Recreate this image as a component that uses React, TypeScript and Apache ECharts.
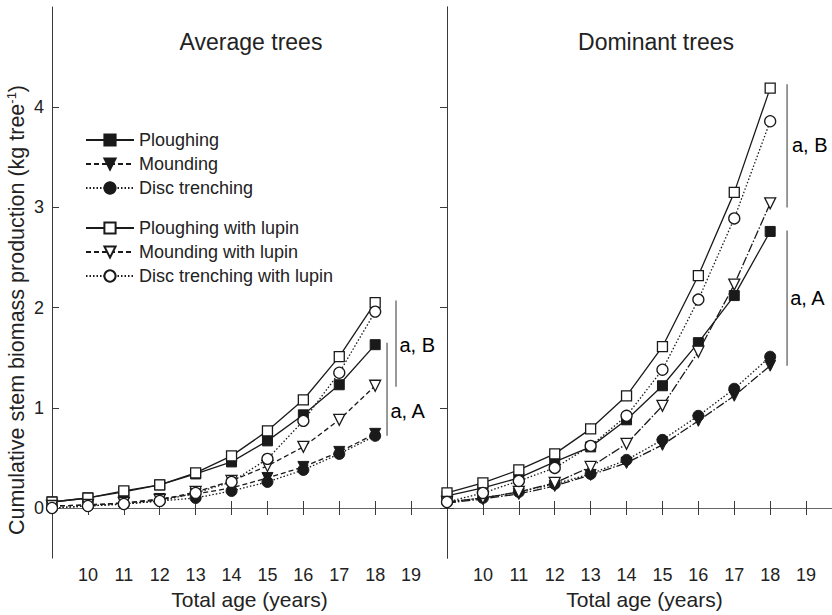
import React, { useEffect, useRef } from "react";
import * as echarts from "echarts";

const ages = [9, 10, 11, 12, 13, 14, 15, 16, 17, 18];
const xTickValues = [10, 11, 12, 13, 14, 15, 16, 17, 18, 19];
const yTickValues = [0, 1, 2, 3, 4];

// Average trees
const avgPloughing = [0.06, 0.1, 0.16, 0.23, 0.34, 0.46, 0.67, 0.93, 1.23, 1.63];
const avgMounding = [0.02, 0.03, 0.05, 0.09, 0.14, 0.2, 0.3, 0.41, 0.56, 0.74];
const avgDisc = [0.0, 0.02, 0.04, 0.07, 0.1, 0.17, 0.26, 0.38, 0.54, 0.72];
const avgPloughingLupin = [0.06, 0.1, 0.17, 0.23, 0.35, 0.52, 0.77, 1.08, 1.51, 2.05];
const avgMoundingLupin = [0.02, 0.03, 0.05, 0.08, 0.16, 0.27, 0.42, 0.61, 0.88, 1.22];
const avgDiscLupin = [0.0, 0.02, 0.04, 0.07, 0.15, 0.26, 0.49, 0.87, 1.35, 1.96];

// Dominant trees
const domPloughing = [0.12, 0.2, 0.3, 0.46, 0.61, 0.88, 1.22, 1.65, 2.12, 2.76];
const domMounding = [0.05, 0.09, 0.14, 0.22, 0.33, 0.45, 0.63, 0.87, 1.12, 1.42];
const domDisc = [0.06, 0.1, 0.16, 0.24, 0.34, 0.48, 0.68, 0.92, 1.19, 1.51];
const domPloughingLupin = [0.15, 0.25, 0.38, 0.54, 0.79, 1.12, 1.61, 2.32, 3.15, 4.19];
const domMoundingLupin = [0.06, 0.1, 0.16, 0.25, 0.41, 0.64, 1.02, 1.56, 2.23, 3.04];
const domDiscLupin = [0.06, 0.15, 0.27, 0.4, 0.62, 0.92, 1.38, 2.08, 2.89, 3.86];

// Significance brackets: [x, yTop, yBottom], labels [x, y, text]
const avgBrackets = [
  [18.58, 2.07, 1.21],
  [18.33, 1.65, 0.72],
];
const avgBracketLabels: [number, number, string][] = [
  [18.62, 1.63, "a, B"],
  [18.37, 0.97, "a, A"],
];
const domBrackets = [
  [18.47, 4.23, 3.0],
  [18.47, 2.77, 1.42],
];
const domBracketLabels: [number, number, string][] = [
  [18.55, 3.62, "a, B"],
  [18.5, 2.1, "a, A"],
];

const FONT = 'Arial, "Liberation Sans", sans-serif';
const INK = "#1a1a1a";
const TRI_DOWN = "path://M0,0L10,0L5,9Z";

type Def = { name: string; symbol: string; filled: boolean; line: any; line2: any; size: number };
const defs: Def[] = [
  { name: "Ploughing", symbol: "rect", filled: true, line: "solid", line2: "solid", size: 10 },
  { name: "Mounding", symbol: TRI_DOWN, filled: true, line: [5, 3], line2: [9, 2, 1.5, 2], size: 11 },
  { name: "Disc trenching", symbol: "circle", filled: true, line: [1.5, 2], line2: [1.5, 2], size: 11 },
  { name: "Ploughing with lupin", symbol: "rect", filled: false, line: "solid", line2: "solid", size: 10 },
  { name: "Mounding with lupin", symbol: TRI_DOWN, filled: false, line: [5, 3], line2: [9, 2, 1.5, 2], size: 11 },
  { name: "Disc trenching with lupin", symbol: "circle", filled: false, line: [1.5, 2], line2: [1.5, 2], size: 11 },
];

function mk(def: Def, values: number[], panel: number) {
  return {
    type: "line",
    name: def.name,
    xAxisIndex: panel * 2,
    yAxisIndex: panel * 2,
    data: ages.map((a, i) => [a, values[i]]),
    symbol: def.symbol,
    symbolSize: def.size,
    showAllSymbol: true,
    lineStyle: { color: INK, width: 1.3, type: panel === 0 ? def.line : def.line2 },
    itemStyle: def.filled
      ? { color: INK, borderColor: INK, borderWidth: 1 }
      : { color: "#fff", borderColor: INK, borderWidth: 1.3 },
    emphasis: { disabled: true },
    z: def.filled ? 3 : 4,
  };
}

function bracketSeries(br: number[][], labels: [number, number, string][], panel: number) {
  const out: any[] = [];
  br.forEach((b) => {
    out.push({
      type: "line",
      xAxisIndex: panel * 2,
      yAxisIndex: panel * 2,
      data: [
        [b[0], b[1]],
        [b[0], b[2]],
      ],
      symbol: "none",
      lineStyle: { color: "#555", width: 1.2 },
      silent: true,
    });
  });
  out.push({
    type: "scatter",
    xAxisIndex: panel * 2,
    yAxisIndex: panel * 2,
    data: labels.map((l) => ({ value: [l[0], l[1]], label: { formatter: l[2] } })),
    symbolSize: 0,
    silent: true,
    z: 10,
    itemStyle: { color: "#000", opacity: 1 },
    label: {
      show: true,
      position: "right",
      distance: 2,
      fontSize: 20,
      fontFamily: FONT,
      color: "#000",
      opacity: 1,
      textBorderWidth: 0,
    },
  });
  return out;
}

const axisLineStyle = { color: "#3a3a3a", width: 1 };

function xAxes(grid: number) {
  return [
    {
      type: "value",
      gridIndex: grid,
      position: "bottom",
      min: 9,
      max: 20,
      name: "Total age (years)",
      nameLocation: "middle",
      nameGap: 27,
      nameTextStyle: { fontSize: 21, fontFamily: FONT, color: "#222", verticalAlign: "top" },
      axisLine: { show: true, lineStyle: axisLineStyle },
      axisTick: { show: true, inside: true, length: 7, customValues: xTickValues, lineStyle: axisLineStyle },
      axisLabel: { show: true, customValues: xTickValues, fontSize: 18, fontFamily: FONT, color: "#222", margin: 8 },
      splitLine: { show: false },
    },
    {
      type: "value",
      gridIndex: grid,
      position: "top",
      min: 9,
      max: 20,
      axisLine: { show: true, lineStyle: { color: "#666", width: 1 } },
      axisTick: { show: true, inside: true, length: 7, customValues: xTickValues, lineStyle: axisLineStyle },
      axisLabel: { show: false },
      splitLine: { show: false },
    },
  ];
}

function yAxes(grid: number) {
  const leftTicks = grid === 0 ? yTickValues : [0];
  return [
    {
      type: "value",
      gridIndex: grid,
      position: "left",
      min: -0.5,
      max: 5,
      axisLine: { show: true, lineStyle: axisLineStyle },
      axisTick: { show: true, inside: true, length: 7, customValues: leftTicks, lineStyle: axisLineStyle },
      axisLabel: {
        show: grid === 0,
        customValues: yTickValues,
        fontSize: 18,
        fontFamily: FONT,
        color: "#222",
        margin: 8,
      },
      splitLine: { show: false },
    },
    {
      type: "value",
      gridIndex: grid,
      position: "right",
      min: -0.5,
      max: 5,
      axisLine: { show: true, lineStyle: axisLineStyle },
      axisTick: { show: true, inside: true, length: 7, customValues: yTickValues, lineStyle: axisLineStyle },
      axisLabel: { show: false },
      splitLine: { show: false },
    },
  ];
}

export default function App() {
  const ref = useRef<HTMLDivElement>(null);
  useEffect(() => {
    if (!ref.current) return;
    const chart = echarts.init(ref.current, undefined, { renderer: "svg" });
    const avgSets = [avgPloughing, avgMounding, avgDisc, avgPloughingLupin, avgMoundingLupin, avgDiscLupin];
    const domSets = [domPloughing, domMounding, domDisc, domPloughingLupin, domMoundingLupin, domDiscLupin];
    const series: any[] = [];
    series.push(...bracketSeries(avgBrackets, avgBracketLabels, 0));
    series.push(...bracketSeries(domBrackets, domBracketLabels, 1));
    defs.forEach((d, i) => series.push(mk(d, avgSets[i], 0)));
    defs.forEach((d, i) => series.push(mk(d, domSets[i], 1)));

    const legendCommon = {
      orient: "vertical",
      left: 85,
      padding: 0,
      itemWidth: 48,
      itemHeight: 14,
      itemGap: 6,
      selectedMode: false,
      textStyle: { fontSize: 18, lineHeight: 16, fontFamily: FONT, color: "#222" },
    };

    chart.setOption({
      animation: false,
      backgroundColor: "#fff",
      grid: [
        { left: 52, top: 7, width: 395, height: 556 },
        { left: 447, top: 7, width: 395, height: 556 },
      ],
      xAxis: [...xAxes(0), ...xAxes(1)],
      yAxis: [...yAxes(0), ...yAxes(1)],
      legend: [
        { ...legendCommon, top: 131, data: defs.slice(0, 3).map((d) => d.name) },
        { ...legendCommon, top: 219, data: defs.slice(3).map((d) => d.name) },
      ],
      graphic: [
        {
          type: "text",
          x: 251,
          y: 42,
          style: { text: "Average trees", fontSize: 23, fontFamily: FONT, fill: "#222", align: "center", verticalAlign: "middle" },
        },
        {
          type: "text",
          x: 656,
          y: 42,
          style: { text: "Dominant trees", fontSize: 23, fontFamily: FONT, fill: "#222", align: "center", verticalAlign: "middle" },
        },
        {
          type: "text",
          x: 17,
          y: 310,
          rotation: Math.PI / 2,
          style: {
            text: "{n|Cumulative stem biomass production (kg tree}{s|-1}{n|)}",
            fontFamily: FONT,
            fill: "#222",
            align: "center",
            verticalAlign: "middle",
            rich: {
              n: { fontSize: 21.5, fontFamily: FONT, fill: "#222", lineHeight: 26 },
              s: { fontSize: 13, fontFamily: FONT, fill: "#222", lineHeight: 26, padding: [0, 0, 11, 0] },
            },
          },
        },
      ],
      series,
    });
    return () => chart.dispose();
  }, []);
  return (
    <div style={{ position: "fixed", left: 0, top: 0, width: 832, height: 615, overflow: "hidden", background: "#fff" }}>
      <div ref={ref} style={{ width: 842, height: 615 }} />
    </div>
  );
}
